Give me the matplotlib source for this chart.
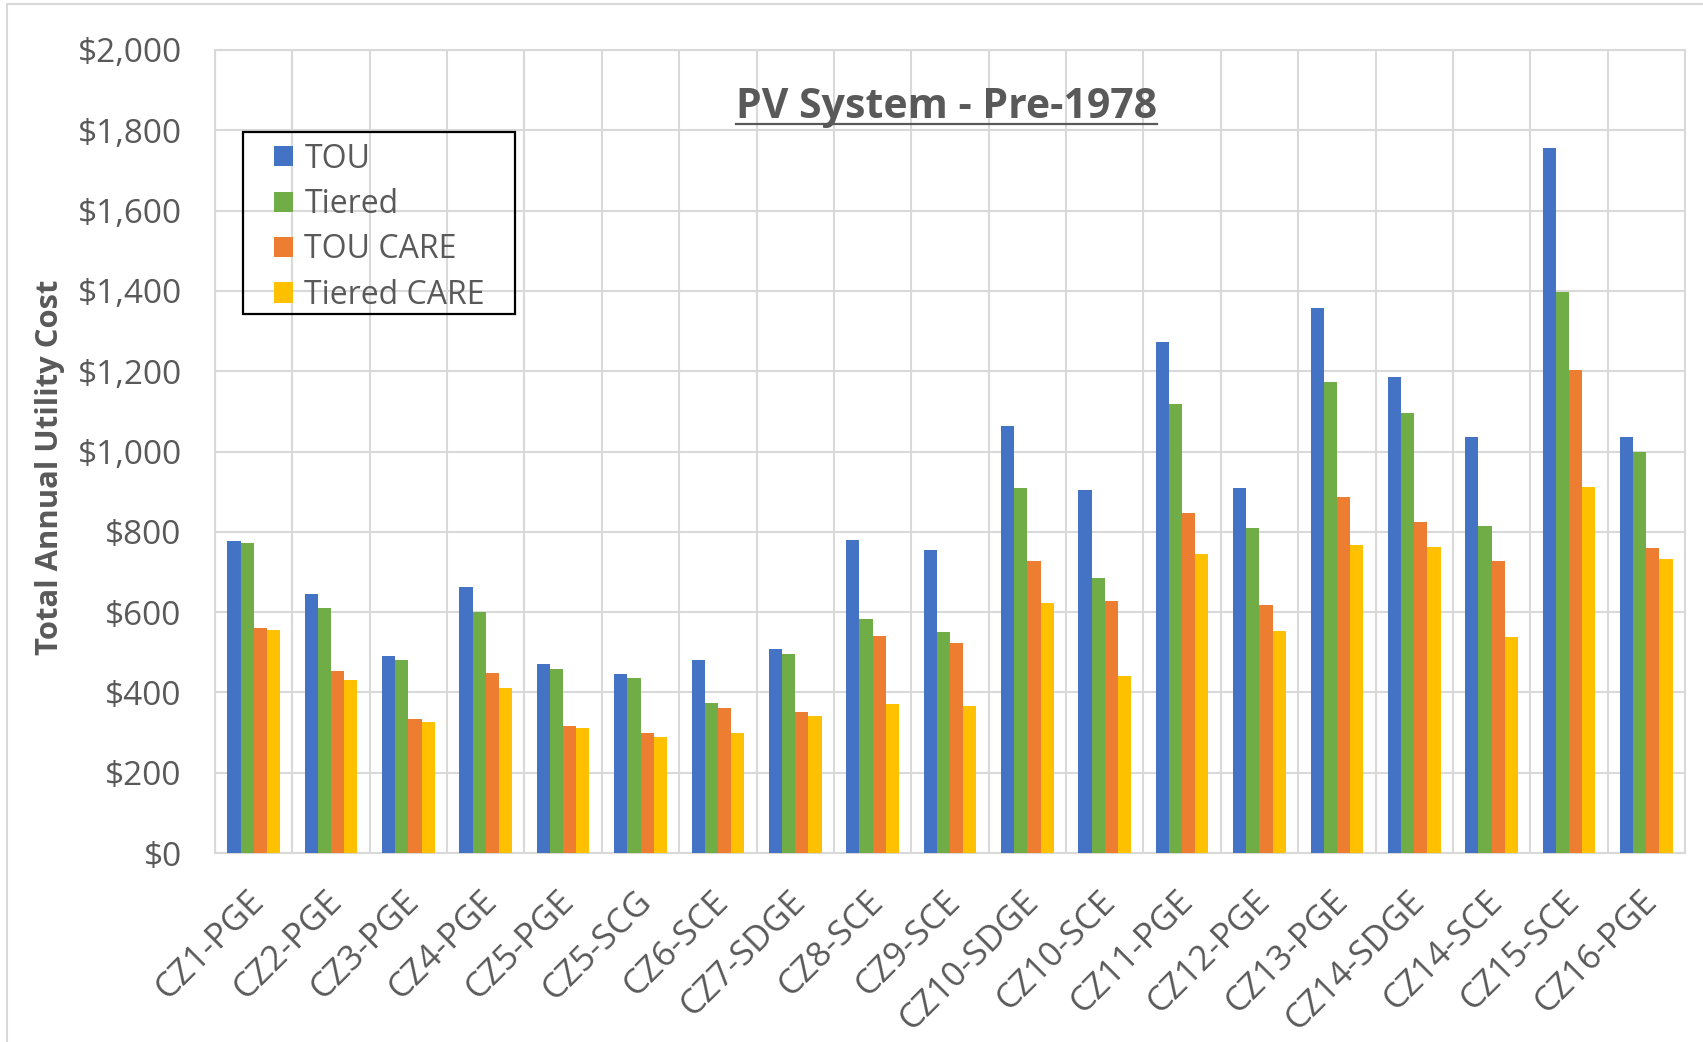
import numpy as np
import matplotlib
matplotlib.use("Agg")
import matplotlib.pyplot as plt
import matplotlib.transforms as mtransforms
from matplotlib.patches import Rectangle
from matplotlib.lines import Line2D

plt.rcParams["font.family"] = ["Open Sans", "DejaVu Sans"]

# annual utility cost per climate zone / utility
ZONES = ["CZ1-PGE", "CZ2-PGE", "CZ3-PGE", "CZ4-PGE", "CZ5-PGE", "CZ5-SCG",
         "CZ6-SCE", "CZ7-SDGE", "CZ8-SCE", "CZ9-SCE", "CZ10-SDGE", "CZ10-SCE",
         "CZ11-PGE", "CZ12-PGE", "CZ13-PGE", "CZ14-SDGE", "CZ14-SCE", "CZ15-SCE",
         "CZ16-PGE"]
TOU = [776, 646, 490, 662, 471, 445, 480, 509, 780, 754, 1063, 904,
       1273, 910, 1357, 1186, 1037, 1755, 1037]
TIERED = [772, 611, 480, 601, 458, 436, 374, 496, 582, 550, 908, 684,
          1118, 809, 1173, 1096, 815, 1398, 998]
TOU_CARE = [560, 454, 334, 449, 317, 299, 360, 352, 540, 524, 728, 627,
            846, 618, 886, 825, 727, 1202, 759]
TIERED_CARE = [556, 432, 326, 411, 311, 289, 299, 342, 372, 365, 623, 442,
               745, 553, 766, 762, 539, 911, 733]
SERIES = ["TOU", "Tiered", "TOU CARE", "Tiered CARE"]
COLORS = ["#4472C4", "#70AD47", "#ED7D31", "#FFC000"]
YTICKS = list(range(0, 2001, 200))

TXT = "#595959"
GRID = "#D9D9D9"
W, H = 1703, 1042

fig = plt.figure(figsize=(W / 100, H / 100), dpi=100)
fig.patches.append(Rectangle((7 / W, -0.05), 1.2, 1.05 - 4 / H, transform=fig.transFigure,
                             fill=False, edgecolor=GRID, lw=1.5))
ax = fig.add_axes([215 / W, 1 - 853 / H, 1470 / W, 803 / H])

x = np.arange(len(ZONES))
bw = 0.17
for i, (vals, name, col) in enumerate(zip([TOU, TIERED, TOU_CARE, TIERED_CARE], SERIES, COLORS)):
    ax.bar(x + (i - 1.5) * bw, vals, bw, color=col, label=name, zorder=3)

ax.set_xlim(-0.5, len(ZONES) - 0.5)
ax.set_ylim(0, 2000)
ax.set_yticks(YTICKS)
ax.set_yticklabels(["${:,}".format(v) for v in YTICKS])
ax.set_xticks(x)
ax.set_xticklabels(ZONES, rotation=45, ha="right", va="center", rotation_mode="anchor")
ax.set_xticks(np.arange(len(ZONES) + 1) - 0.5, minor=True)
ax.tick_params(axis="both", which="both", length=0, colors=TXT)
ax.tick_params(axis="x", which="major", pad=31, labelsize=25)
ax.tick_params(axis="y", pad=24, labelsize=24)
shift = mtransforms.ScaledTranslation(6 / 100, 0, fig.dpi_scale_trans)
for lab in ax.get_xticklabels():
    lab.set_transform(lab.get_transform() + shift)
ax.grid(axis="y", which="major", color=GRID, lw=1.5, zorder=0)
ax.grid(axis="x", which="minor", color=GRID, lw=1.5, zorder=0)
for s in ax.spines.values():
    s.set_color(GRID)
    s.set_linewidth(1.5)

ax.set_ylabel("Total Annual Utility Cost", fontsize=22.3, fontweight="bold", color=TXT)
ax.yaxis.set_label_coords(-150 / 1470, 0.48)

# legend: contents placed without frame, box drawn to match the original
leg = ax.legend(loc="upper left", bbox_to_anchor=(274 / W, 1 - 142.5 / H), bbox_transform=fig.transFigure,
                fontsize=23, frameon=False, handlelength=0.6, handleheight=0.6,
                handletextpad=0.35, labelspacing=0.39, borderpad=0, borderaxespad=0)
for t in leg.get_texts():
    t.set_color(TXT)
fig.patches.append(Rectangle((243 / W, 1 - 314 / H), 272 / W, 182 / H, transform=fig.transFigure,
                             fill=False, edgecolor="black", lw=1.6, zorder=5))

title = fig.text(946 / W, 1 - 118 / H, "PV System - Pre-1978", ha="center", va="baseline",
                 fontsize=29.5, fontweight="bold", color=TXT)
fig.canvas.draw()
bb = title.get_window_extent()
fig.lines.append(Line2D([bb.x0 / W, bb.x1 / W], [1 - 124 / H, 1 - 124 / H], transform=fig.transFigure,
                        color=TXT, lw=1.6))

fig.savefig("out.png", dpi=100, facecolor="white")
